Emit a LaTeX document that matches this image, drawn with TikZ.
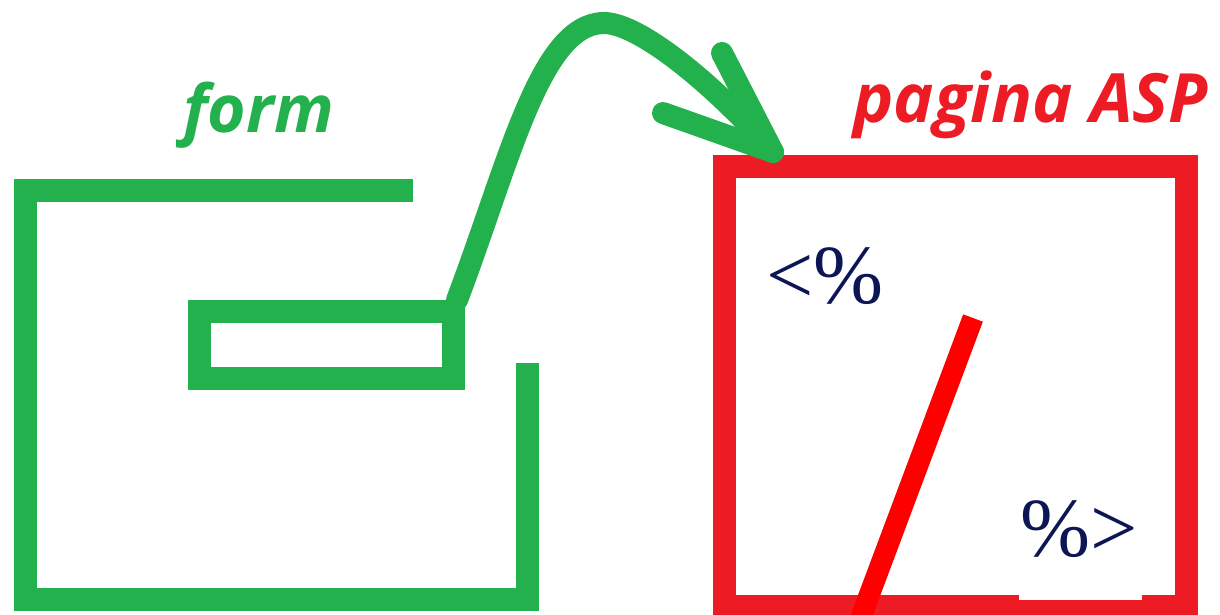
\documentclass[tikz,border=0pt]{standalone}
\usepackage{fontspec}
\newfontfamily\labelfont{Open Sans}
\newfontfamily\codefont{Liberation Serif}
\definecolor{formgreen}{RGB}{34,177,76}
\definecolor{framered}{RGB}{237,28,36}
\definecolor{slashred}{RGB}{255,0,0}
\definecolor{codeink}{RGB}{12,22,85}
\begin{document}
\begin{tikzpicture}[x=1pt,y=-1pt,
  formline/.style={draw=formgreen,line width=23pt,line cap=butt,line join=miter},
  fieldbox/.style={draw=formgreen,line width=23pt,inner sep=0pt,minimum width=254pt,minimum height=67pt},
  aspbox/.style={draw=framered,line width=23pt,inner sep=0pt,minimum width=462pt,minimum height=440pt},
  arrowline/.style={draw=formgreen,line width=22pt,line cap=round,line join=round},
  slash/.style={draw=slashred,line width=21pt,line cap=butt},
  labeltext/.style={inner sep=0pt,anchor=base west,font=\labelfont\bfseries\itshape\fontsize{66}{70}\selectfont},
  codetext/.style={inner sep=0pt,anchor=base west,text=codeink,font=\codefont\fontsize{84}{90}\selectfont}
]
\useasboundingbox (0,0) rectangle (1220,614);
\fill[white] (0,0) rectangle (1220,614);

% form outline
\coordinate (ftop) at (413,190.5);
\coordinate (ftl) at (25.5,190.5);
\coordinate (fbl) at (25.5,599);
\coordinate (fbr) at (527.5,599);
\coordinate (fright) at (527.5,363);
\draw[formline] (ftop) -- (ftl) -- (fbl) -- (fbr) -- (fright);

% text field
\node[fieldbox] (field) at (326.5,345) {};

% asp page
\node[aspbox] (asp) at (955.5,386) {};
\coordinate (slashtop) at (973,318);
\coordinate (slashbot) at (858,625);
\draw[slash] (slashtop) -- (slashbot);
\fill[white] (1019,565) rectangle (1142,600);

% labels
\node[labeltext,text=formgreen] (formlabel) at (183,132) {form};
\node[labeltext,text=framered,font=\labelfont\bfseries\itshape\fontsize{68}{72}\selectfont] (asplabel) at (853,122) {pagina ASP};

% code markers
\node[codetext] (open) at (766,303) {<\%};
\node[codetext] (close) at (1020,556) {\%>};

% arrow
\coordinate (tip) at (773,152);
\coordinate (armA) at (722,53);
\coordinate (armB) at (663,113);
\coordinate (peak) at (603,23);
\draw[arrowline] ([xshift=-8pt]field.north east) .. controls (510,160) and (540,25) .. (peak)
   .. controls (640,22) and (720,90) .. (tip);
\draw[arrowline] (armA) -- (tip) -- (armB);
\end{tikzpicture}
\end{document}
